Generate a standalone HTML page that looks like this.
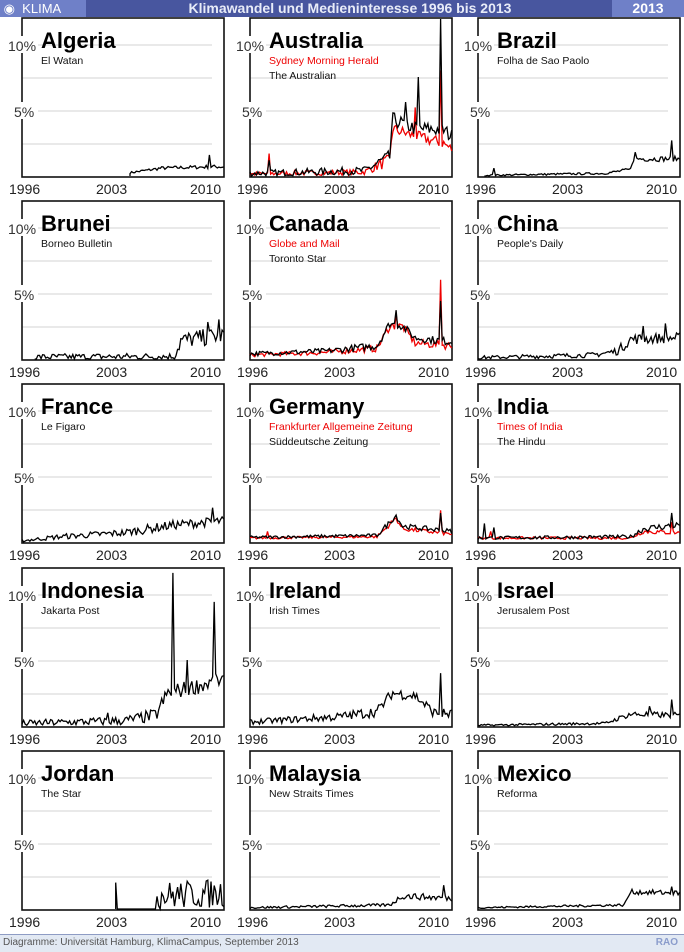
<!DOCTYPE html>
<html><head><meta charset="utf-8"><style>
body{margin:0;width:684px;height:951px;background:#fff;overflow:hidden;font-family:"Liberation Sans",sans-serif;position:relative}
#hdr{position:absolute;left:0;top:0;width:684px;height:17px;background:#48569f}
#hdr .l{position:absolute;left:0;top:0;width:86px;height:17px;background:#6f80c8;color:#fff;font-size:13px;line-height:17px}
#hdr .c{position:absolute;left:86px;width:528px;text-align:center;color:#e8ecf8;font-size:14px;font-weight:bold;line-height:17px}
#hdr .r{position:absolute;right:0;top:0;width:72px;height:17px;background:#6f80c8;color:#fff;font-weight:bold;font-size:14px;line-height:17px;text-align:center}
#ftr{position:absolute;left:0;top:934px;width:684px;height:17px;background:#e2e9f3;border-top:1px solid #8e9cc4;color:#555;font-size:10px;line-height:16px}
</style></head><body>
<div id="hdr"><div class="l">&nbsp;◉&nbsp; KLIMA</div><div class="c">Klimawandel und Medieninteresse 1996 bis 2013</div><div class="r">2013</div></div>
<svg id="s" width="684" height="934" style="position:absolute;left:0;top:0" font-family="Liberation Sans, sans-serif"></svg>
<div id="ftr"><span style="margin-left:3px">Diagramme: Universität Hamburg, KlimaCampus, September 2013</span><span style="position:absolute;right:6px;color:#8a9ccc;font-weight:bold">RAO</span></div>
<script>
var seed=7;function rnd(){seed=(seed*16807)%2147483647;return seed/2147483647;}
var cols=[22,250,478],rows=[18,201,384,568,751],W=202,H=159,Y0=1996,Y1=2011.9,PX=13.2;
var P=[
["Algeria",["El Watan"],[{s:2004.5,k:[[2004.5,.25],[2007,.6],[2011,.7]],sp:[[2010.8,1.6]],n:.35,c:"#000"}]],
["Australia",["Sydney Morning Herald","The Australian"],[
 {s:1996,k:[[1996,.15],[2005,.3],[2006.5,1],[2007,1.2],[2007.2,3.6],[2009,3],[2011.2,2.5],[2011.9,2]],sp:[[1997.5,1.7],[2009,5.2],[2011,8]],n:.9,c:"#e00"},
 {s:1996,k:[[1996,.2],[2005,.4],[2006.5,1.2],[2007,1.4],[2007.2,4.3],[2009,3.6],[2011.2,3.5],[2011.9,3]],sp:[[1997.5,1.2],[2009.2,7.5],[2011,12.2],[2008.3,5.6]],n:1.1,c:"#000"}]],
["Brazil",["Folha de Sao Paolo"],[{s:1996.5,k:[[1996.5,.05],[2006,.2],[2008,.5],[2008.2,1.3],[2011.5,1.3]],sp:[[1997.2,.6],[2011.2,2.7],[2008.4,1.8]],n:.4,c:"#000"}]],
["Brunei",["Borneo Bulletin"],[{s:1997,k:[[1997,.15],[2008,.2],[2008.5,1.4],[2011.9,1.8]],sp:[[2011.5,3],[2010.6,2.8]],n:1.3,c:"#000"}]],
["Canada",["Globe and Mail","Toronto Star"],[
 {s:1996,k:[[1996,.3],[2002,.5],[2006,.8],[2007,2.5],[2008,2.5],[2009,1.2],[2011.9,1]],sp:[[2007.5,3.4],[2011,6]],n:.6,c:"#e00"},
 {s:1996,k:[[1996,.4],[2002,.6],[2006,1],[2007,2.7],[2008,2.5],[2009,1.6],[2011.9,1.3]],sp:[[2007.5,3.7],[2011,4.4]],n:.6,c:"#000"}]],
["China",["People's Daily"],[{s:1996,k:[[1996,.1],[2005,.3],[2007,.6],[2008,1.5],[2011.4,1.6]],sp:[[2010.8,2.7],[2009,2.5]],n:.8,c:"#000"}]],
["France",["Le Figaro"],[{s:1996,k:[[1996,.1],[1999,.4],[2004,.7],[2008,1.3],[2011.9,1.6]],sp:[[2011,2.6]],n:.7,c:"#000"}]],
["Germany",["Frankfurter Allgemeine Zeitung","Süddeutsche Zeitung"],[
 {s:1996,k:[[1996,.3],[2006,.4],[2007.5,1.8],[2008,1],[2011.9,.6]],sp:[[2011,2.4],[1997.4,.8]],n:.35,c:"#e00"},
 {s:1996,k:[[1996,.35],[2006,.5],[2007.5,2],[2008,1.2],[2011.9,.8]],sp:[[2011,2.2]],n:.4,c:"#000"}]],
["India",["Times of India","The Hindu"],[
 {s:1996,k:[[1996,.3],[2008,.3],[2009,.8],[2011.9,.7]],sp:[[2011.3,1.5],[1997,.8]],n:.4,c:"#e00"},
 {s:1996,k:[[1996,.3],[2008,.4],[2009,1],[2011.9,1.3]],sp:[[1996.5,1.4],[1997.2,1.1],[2011.3,2.2]],n:.5,c:"#000"}]],
["Indonesia",["Jakarta Post"],[{s:1996,k:[[1996,.2],[2004,.4],[2006.5,.8],[2007.5,2.5],[2011.9,3.5]],sp:[[2007.9,11.6],[2011.1,9.4],[2002.8,1],[2009,5]],n:1.2,c:"#000"}]],
["Ireland",["Irish Times"],[{s:1996,k:[[1996,.3],[2003,.7],[2006,1.1],[2007.2,2.5],[2009,2.3],[2010.5,1],[2011.9,.9]],sp:[[2011,4]],n:.8,c:"#000"}]],
["Israel",["Jerusalem Post"],[{s:1996,k:[[1996,.05],[2006,.2],[2008,.9],[2011.9,.8]],sp:[[2011.2,2],[2009.5,1.5]],n:.5,c:"#000"}]],
["Jordan",["The Star"],[{s:2003.4,k:[[2003.4,0],[2006.3,0],[2006.6,1],[2011.9,1.2]],sp:[[2003.4,2]],n:2.2,c:"#000",z:1}]],
["Malaysia",["New Straits Times"],[{s:1996,k:[[1996,.1],[2007,.3],[2008,1],[2011.9,.8]],sp:[[2011.3,1.8]],n:.5,c:"#000"}]],
["Mexico",["Reforma"],[{s:1996,k:[[1996,.1],[2007.5,.3],[2008,1.3],[2011.9,1.2]],sp:[[2011.3,1.7]],n:.4,c:"#000"}]]];
function interp(k,y){if(y<=k[0][0])return k[0][1];for(var i=1;i<k.length;i++)if(y<=k[i][0]){var a=k[i-1],b=k[i];return a[1]+(b[1]-a[1])*(y-a[0])/(b[0]-a[0]);}return k[k.length-1][1];}
var h='';
P.forEach(function(p,i){var x=cols[i%3],y=rows[Math.floor(i/3)],b=y+H;
 h+='<g>';
 [2.5,5,7.5,10].forEach(function(v){var gy=b-v*PX;h+='<line x1="'+x+'" x2="'+(x+W-12)+'" y1="'+gy+'" y2="'+gy+'" stroke="#e2e2e2" stroke-width="1.5"/>';});
 h+='<rect x="'+x+'" y="'+y+'" width="'+W+'" height="'+H+'" fill="none" stroke="#111" stroke-width="1.6"/>';
 h+='<rect x="'+(x-14)+'" y="'+(b-10*PX-9)+'" width="30" height="17" fill="#fff"/><text x="'+(x-14)+'" y="'+(b-10*PX+6)+'" font-size="14" fill="#333">10%</text>';
 h+='<rect x="'+(x-8)+'" y="'+(b-5*PX-9)+'" width="24" height="17" fill="#fff"/><text x="'+(x-8)+'" y="'+(b-5*PX+6)+'" font-size="14" fill="#333">5%</text>';
 h+='<text x="'+(x+19)+'" y="'+(y+30)+'" font-size="22" font-weight="bold">'+p[0]+'</text>';
 p[1].forEach(function(s,j){var red=p[1].length==2&&j==0;h+='<text x="'+(x+19)+'" y="'+(y+46+j*15)+'" font-size="10.5" fill="'+(red?'#e00':'#111')+'">'+s+'</text>';});
 var yl=b+17;h+='<text x="'+(x-13)+'" y="'+yl+'" font-size="14" fill="#222">1996</text><text x="'+(x+74)+'" y="'+yl+'" font-size="14" fill="#222">2003</text><text x="'+(x+168)+'" y="'+yl+'" font-size="14" fill="#222">2010</text>';
 p[2].forEach(function(sr){var pts=[];var st=(sr.s-Y0)*8;for(var m=Math.round(st);m<=(Y1-Y0)*8;m++){var yr=Y0+m/8,v=interp(sr.k,yr);var n=(rnd()-.5)*sr.n*(sr.z?1:Math.min(1,.25+v*.8));v=Math.max(0,v+n);if(sr.z&&yr<2006.5)v=0;sr.sp.forEach(function(q){if(Math.abs(q[0]-yr)<.07)v=q[1];});var px=x+(yr-Y0)/(Y1-Y0)*W,py=b-1-v*PX;if(m==Math.round(st)&&st>0)pts.push(px.toFixed(1)+','+(b-1));pts.push(px.toFixed(1)+','+Math.max(y+1,py).toFixed(1));}
  h+='<polyline points="'+pts.join(' ')+'" fill="none" stroke="'+sr.c+'" stroke-width="1.3"/>';});
 h+='</g>';});
document.getElementById('s').innerHTML=h;
</script>
</body></html>
